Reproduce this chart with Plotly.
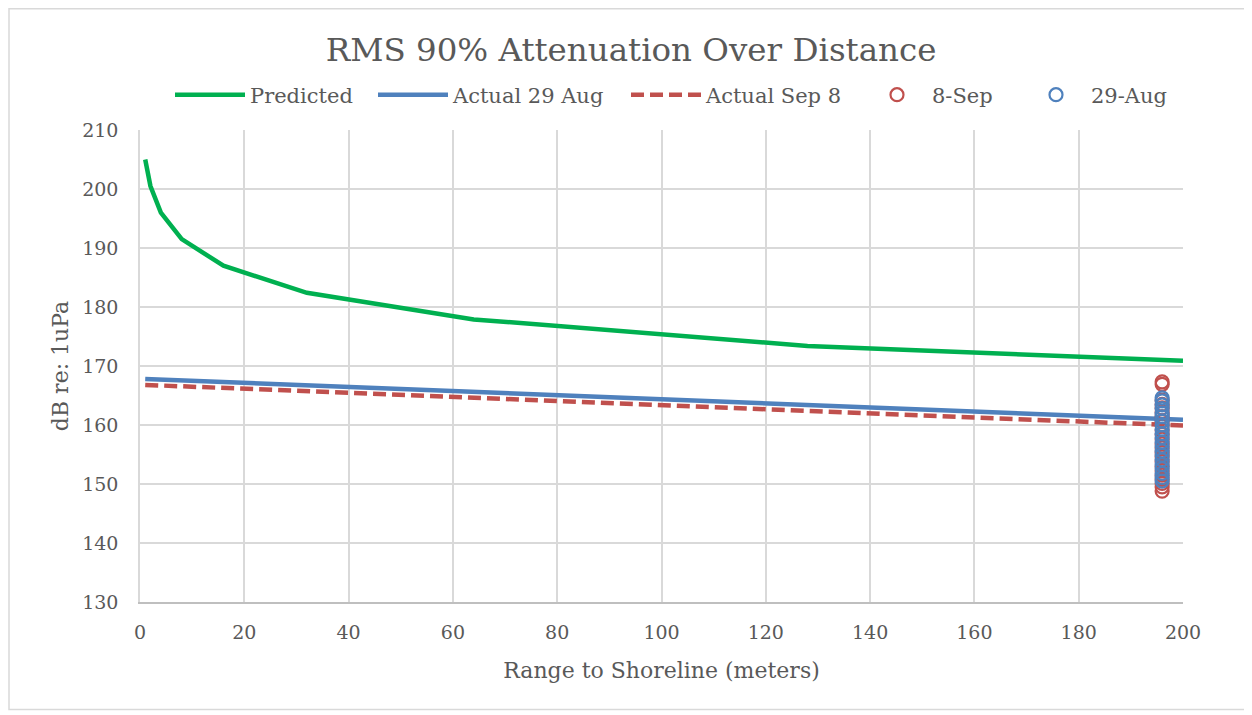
import plotly.graph_objects as go

# Predicted spreading-loss curve
pred_x = [1, 2, 4, 8, 16, 32, 64, 128, 200]
pred_y = [205.0, 200.5, 196.0, 191.5, 187.0, 182.4, 177.9, 173.4, 170.9]

# Actual fitted lines
aug_x = [1, 200]
aug_y = [167.8, 160.9]
sep_x = [1, 200]
sep_y = [166.8, 159.9]

# Measured points at ~196 m
sep_pts_x = [196] * 24
sep_pts_y = [167.3, 166.9, 164.2, 163.5, 162.9, 162.1, 161.4, 160.6, 159.9, 159.1, 158.4,
             157.6, 156.8, 156.1, 155.3, 154.6, 153.8, 153.0, 152.2, 151.5, 150.8, 150.1,
             149.5, 148.8]
aug_pts_x = [196] * 21
aug_pts_y = [164.6, 164.1, 163.4, 162.8, 162.0, 161.4, 160.7, 160.0, 159.3, 158.5, 157.9,
             157.1, 156.4, 155.6, 154.9, 154.1, 153.3, 152.6, 151.8, 151.1, 150.5]

GREEN = "#00B050"
BLUE = "#4F81BD"
RED = "#C0504D"
TXT = "#595959"
FONT = "DejaVu Serif"

fig = go.Figure()
fig.add_trace(go.Scatter(x=pred_x, y=pred_y, mode="lines", name="Predicted", legend="legend",
                         showlegend=True, line=dict(color=GREEN, width=4.5)))
fig.add_trace(go.Scatter(x=aug_x, y=aug_y, mode="lines", name="Actual 29 Aug", legend="legend2",
                         showlegend=True, line=dict(color=BLUE, width=4.5)))
fig.add_trace(go.Scatter(x=sep_x, y=sep_y, mode="lines", name="Actual Sep 8", legend="legend3",
                         showlegend=True, line=dict(color=RED, width=4.5, dash="13px,6px")))
fig.add_trace(go.Scatter(x=sep_pts_x, y=sep_pts_y, mode="markers", name="8-Sep", legend="legend4",
                         showlegend=True,
                         marker=dict(symbol="circle-open", size=13, color=RED,
                                     line=dict(width=2.2, color=RED))))
fig.add_trace(go.Scatter(x=aug_pts_x, y=aug_pts_y, mode="markers", name="29-Aug", legend="legend5",
                         showlegend=True,
                         marker=dict(symbol="circle-open", size=13, color=BLUE,
                                     line=dict(width=2.2, color=BLUE))))

LEG_Y = 1.074
def leg(x, iw=30):
    return dict(orientation="h", x=x, xanchor="left", y=LEG_Y, yanchor="middle",
                font=dict(family=FONT, size=21, color=TXT), bgcolor="rgba(0,0,0,0)",
                itemwidth=iw, visible=True)

# paper x of each legend box (plot area spans 1043 px starting at 132 px)
fig.update_layout(
    width=1244, height=707,
    showlegend=True,
    paper_bgcolor="white", plot_bgcolor="white",
    margin=dict(l=132, r=69, t=122, b=113),
    font=dict(family=FONT, color=TXT, size=18),
    title=dict(text="RMS 90% Attenuation Over Distance", x=0.4708, xanchor="center",
               y=0.9406, yanchor="middle", xref="paper",
               font=dict(family=FONT, size=32.5, color=TXT)),
    legend=leg((162 - 132) / 1043, 70), legend2=leg((365 - 132) / 1043, 70),
    legend3=leg((618 - 132) / 1043, 70),
    legend4=leg((854 - 132) / 1043, 60), legend5=leg((1013 - 132) / 1043, 60),
    xaxis=dict(range=[0, 200], dtick=20, tick0=0, showgrid=True, gridcolor="#D9D9D9",
               gridwidth=1.5, showline=True, linecolor="#BFBFBF", linewidth=1.5,
               zeroline=False, ticks="", ticklabelstandoff=12, tickfont=dict(size=19, color=TXT),
               title=dict(text="Range to Shoreline (meters)", font=dict(size=22, color=TXT),
                          standoff=21)),
    yaxis=dict(range=[130, 210], dtick=10, tick0=130, showgrid=True, gridcolor="#D9D9D9",
               gridwidth=1.5, showline=True, linecolor="#D9D9D9", linewidth=1.5,
               zeroline=False, ticks="", ticklabelstandoff=16, tickfont=dict(size=19, color=TXT),
               title=dict(text="dB re: 1uPa", font=dict(size=22, color=TXT), standoff=7)),
    shapes=[dict(type="rect", xref="paper", yref="paper", x0=-0.1256, x1=1.0604,
                 y0=-0.2280, y1=1.2568,
                 line=dict(color="#D9D9D9", width=1.5), fillcolor="rgba(0,0,0,0)", layer="below")],
)

fig.write_html("out.html")
